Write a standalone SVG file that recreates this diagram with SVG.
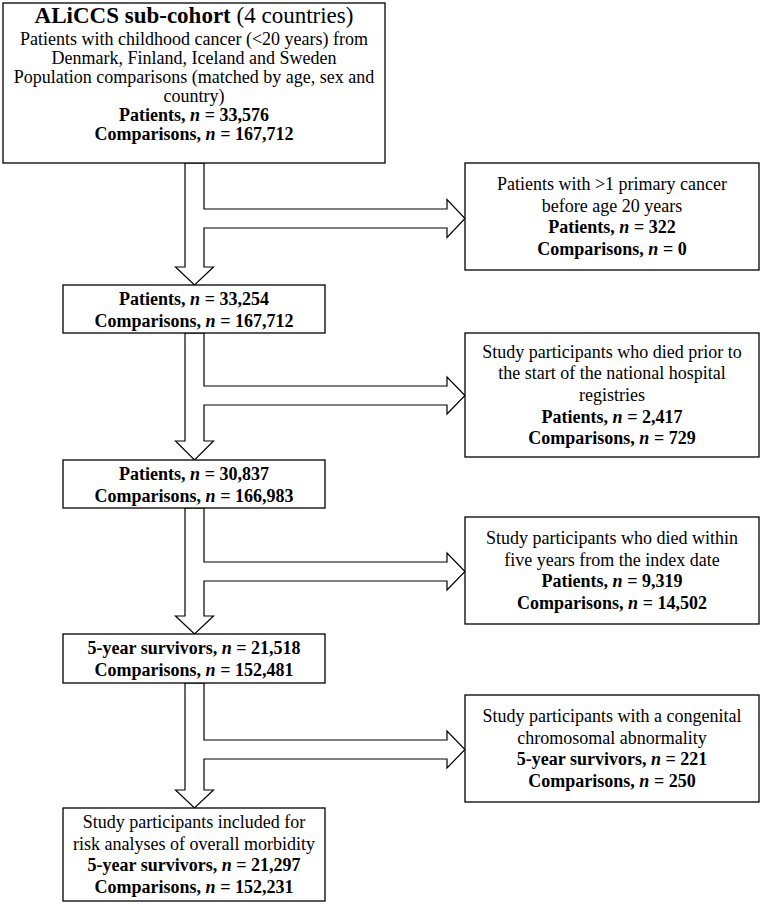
<svg xmlns="http://www.w3.org/2000/svg" width="762" height="904" viewBox="0 0 762 904">
<style>
.box{fill:#fff;stroke:#000;stroke-width:1.3}
.arr{fill:#fff;stroke:#000;stroke-width:1.2;stroke-linejoin:miter}
text{font-family:"Liberation Serif","Times New Roman",serif;font-size:18px;fill:#000;text-anchor:middle}
.b{font-weight:bold}
.i{font-style:italic}
.t{font-size:23px}
</style>
<rect width="762" height="904" fill="#fff"/>
<g id="connectors">
<path class="arr" d="M185,163 L204,163 L204,209 L447,209 L447,199.5 L465,218.5 L447,237.5 L447,228 L204,228 L204,267 L213.5,267 L194.5,285 L175.5,267 L185,267 Z"/>
<path class="arr" d="M185,333 L204,333 L204,386 L447,386 L447,377 L465,395.5 L447,414 L447,405 L204,405 L204,441 L213.5,441 L194.5,460 L175.5,441 L185,441 Z"/>
<path class="arr" d="M185,508 L204,508 L204,562 L447,562 L447,553 L465,571.5 L447,590 L447,581 L204,581 L204,616 L213.5,616 L194.5,634 L175.5,616 L185,616 Z"/>
<path class="arr" d="M185,683 L204,683 L204,740 L447,740 L447,731 L465,749.5 L447,768 L447,759 L204,759 L204,790 L213.5,790 L194.5,808 L175.5,790 L185,790 Z"/>
</g>
<g id="n0">
<rect class="box" x="3" y="3" width="382" height="160"/>
<text x="194" y="23" class="t"><tspan class="b">ALiCCS sub-cohort</tspan> (4 countries)</text>
<text x="194" y="44.5">Patients with childhood cancer (&lt;20 years) from</text>
<text x="194" y="63.5">Denmark, Finland, Iceland and Sweden</text>
<text x="194" y="82.5">Population comparisons (matched by age, sex and</text>
<text x="194" y="101.5">country)</text>
<text x="194" y="120.8" class="b">Patients, <tspan class="i">n</tspan> = 33,576</text>
<text x="194" y="140" class="b">Comparisons, <tspan class="i">n</tspan> = 167,712</text>
</g>
<g id="n1">
<rect class="box" x="465" y="163" width="294" height="107"/>
<text x="612" y="190">Patients with &gt;1 primary cancer</text>
<text x="612" y="211.6">before age 20 years</text>
<text x="612" y="233.4" class="b">Patients, <tspan class="i">n</tspan> = 322</text>
<text x="612" y="255.1" class="b">Comparisons, <tspan class="i">n</tspan> = 0</text>
</g>
<g id="n2">
<rect class="box" x="63" y="285" width="262" height="48"/>
<text x="194" y="304.5" class="b">Patients, <tspan class="i">n</tspan> = 33,254</text>
<text x="194" y="326.5" class="b">Comparisons, <tspan class="i">n</tspan> = 167,712</text>
</g>
<g id="n3">
<rect class="box" x="465" y="333" width="294" height="124"/>
<text x="612" y="357.6">Study participants who died prior to</text>
<text x="612" y="379.3">the start of the national hospital</text>
<text x="612" y="401">registries</text>
<text x="612" y="422.7" class="b">Patients, <tspan class="i">n</tspan> = 2,417</text>
<text x="612" y="444.4" class="b">Comparisons, <tspan class="i">n</tspan> = 729</text>
</g>
<g id="n4">
<rect class="box" x="63" y="460" width="262" height="48"/>
<text x="194" y="479.5" class="b">Patients, <tspan class="i">n</tspan> = 30,837</text>
<text x="194" y="501.5" class="b">Comparisons, <tspan class="i">n</tspan> = 166,983</text>
</g>
<g id="n5">
<rect class="box" x="465" y="517" width="294" height="107"/>
<text x="612" y="544">Study participants who died within</text>
<text x="612" y="565.7">five years from the index date</text>
<text x="612" y="587.4" class="b">Patients, <tspan class="i">n</tspan> = 9,319</text>
<text x="612" y="609.1" class="b">Comparisons, <tspan class="i">n</tspan> = 14,502</text>
</g>
<g id="n6">
<rect class="box" x="63" y="634" width="262" height="49"/>
<text x="194" y="654" class="b">5-year survivors, <tspan class="i">n</tspan> = 21,518</text>
<text x="194" y="676" class="b">Comparisons, <tspan class="i">n</tspan> = 152,481</text>
</g>
<g id="n7">
<rect class="box" x="465" y="695" width="294" height="107"/>
<text x="612" y="722">Study participants with a congenital</text>
<text x="612" y="743.7">chromosomal abnormality</text>
<text x="612" y="765.4" class="b">5-year survivors, <tspan class="i">n</tspan> = 221</text>
<text x="612" y="787.1" class="b">Comparisons, <tspan class="i">n</tspan> = 250</text>
</g>
<g id="n8">
<rect class="box" x="63" y="808" width="262" height="93"/>
<text x="194" y="828">Study participants included for</text>
<text x="194" y="849.7">risk analyses of overall morbidity</text>
<text x="194" y="871.4" class="b">5-year survivors, <tspan class="i">n</tspan> = 21,297</text>
<text x="194" y="893.1" class="b">Comparisons, <tspan class="i">n</tspan> = 152,231</text>
</g>
</svg>
